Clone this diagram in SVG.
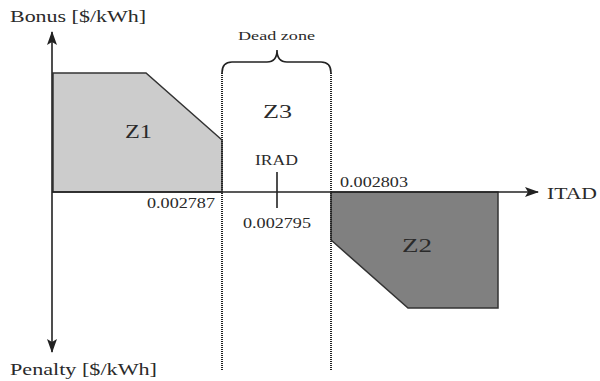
<svg xmlns="http://www.w3.org/2000/svg" width="600" height="381" viewBox="0 0 600 381">
<style>
text{font-family:"Liberation Serif","Times New Roman",serif;fill:#2a2a2a}
.ax{stroke:#222;stroke-width:1.6;fill:none}
.dot{stroke:#222;stroke-width:2;stroke-dasharray:1 1;fill:none}
.zone{stroke:#333;stroke-width:1.5}
</style>
<defs>
<marker id="ah2" viewBox="0 0 14 10" refX="13" refY="5" markerWidth="14" markerHeight="10" markerUnits="userSpaceOnUse" orient="auto"><path d="M0,0 L14,5 L0,10 L3,5 Z" fill="#222"/></marker>
</defs>
<g id="z1"><polygon class="zone" points="53,73 146,73 222,140 222,192 53,192" fill="#cccccc"/><text x="125" y="138" font-size="18" textLength="27" lengthAdjust="spacingAndGlyphs">Z1</text></g>
<g id="z2"><polygon class="zone" points="331,192 498,192 498,308 408,308 331,240" fill="#808080"/><text x="402" y="252" font-size="18" textLength="30" lengthAdjust="spacingAndGlyphs">Z2</text></g>
<g id="z3"><text x="263" y="118" font-size="18" textLength="29" lengthAdjust="spacingAndGlyphs">Z3</text></g>
<g id="deadzone">
<path class="ax" stroke-width="1.4" d="M222,73 Q222,62 232,62 L267,62 Q277,62 277,50 Q277,62 287,62 L321,62 Q331,62 331,73"/>
<text x="238" y="40" font-size="13" textLength="77" lengthAdjust="spacingAndGlyphs">Dead zone</text>
</g>
<g id="connectors">
<line class="dot" x1="222" y1="73" x2="222" y2="370"/>
<line class="dot" x1="331" y1="73" x2="331" y2="370"/>
<line class="ax" x1="52" y1="192" x2="538" y2="192" marker-end="url(#ah2)"/>
<line class="ax" x1="52" y1="192" x2="52" y2="32" marker-end="url(#ah2)"/>
<line class="ax" x1="52" y1="192" x2="52" y2="352" marker-end="url(#ah2)"/>
<line class="ax" x1="277" y1="172" x2="277" y2="208"/>
</g>
<g id="labels">
<text x="10" y="22" font-size="17" textLength="136" lengthAdjust="spacingAndGlyphs">Bonus [$/kWh]</text>
<text x="10" y="375" font-size="17" textLength="147" lengthAdjust="spacingAndGlyphs">Penalty [$/kWh]</text>
<text x="547" y="199" font-size="16" textLength="50" lengthAdjust="spacingAndGlyphs">ITAD</text>
<text x="255" y="165" font-size="14" textLength="43" lengthAdjust="spacingAndGlyphs">IRAD</text>
<text x="147" y="208" font-size="14" textLength="68" lengthAdjust="spacingAndGlyphs">0.002787</text>
<text x="243" y="228" font-size="14" textLength="68" lengthAdjust="spacingAndGlyphs">0.002795</text>
<text x="340" y="187" font-size="14" textLength="68" lengthAdjust="spacingAndGlyphs">0.002803</text>
</g>
</svg>
